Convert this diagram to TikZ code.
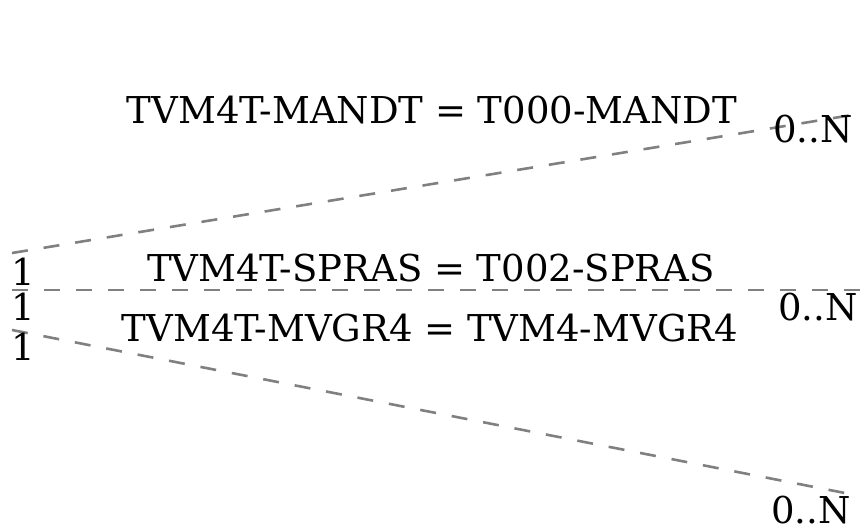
\documentclass[tikz,border=0pt]{standalone}
\usepackage{fontspec}
\setmainfont{DejaVu Serif}
\begin{document}
\begin{tikzpicture}[x=1pt,y=-1pt,
  rel/.style={draw={rgb,255:red,128;green,128;blue,128},line width=2.6pt,dash pattern=on 16pt off 16pt},
  lbl/.style={font=\fontsize{37}{40}\selectfont,inner sep=0pt,anchor=base}]
\useasboundingbox (0,0) rectangle (865,531);
\coordinate (a1) at (12,253);
\coordinate (b1) at (852,115);
\coordinate (a2) at (12,290);
\coordinate (b2) at (862,290);
\coordinate (a3) at (12,330);
\coordinate (b3) at (850,494);
\draw[rel] (a1) -- (b1);
\draw[rel] (a2) -- (b2);
\draw[rel] (a3) -- (b3);
\node[lbl] (t1) at (432,123) {TVM4T-MANDT = T000-MANDT};
\node[lbl] (t2) at (431,281) {TVM4T-SPRAS = T002-SPRAS};
\node[lbl] (t3) at (430,341) {TVM4T-MVGR4 = TVM4-MVGR4};
\node[lbl] (s1) at (23,285) {1};
\node[lbl] (s2) at (23,320) {1};
\node[lbl] (s3) at (23,360) {1};
\node[lbl] (e1) at (813,142) {0..N};
\node[lbl] (e2) at (818,320) {0..N};
\node[lbl] (e3) at (811,523) {0..N};
\end{tikzpicture}
\end{document}
